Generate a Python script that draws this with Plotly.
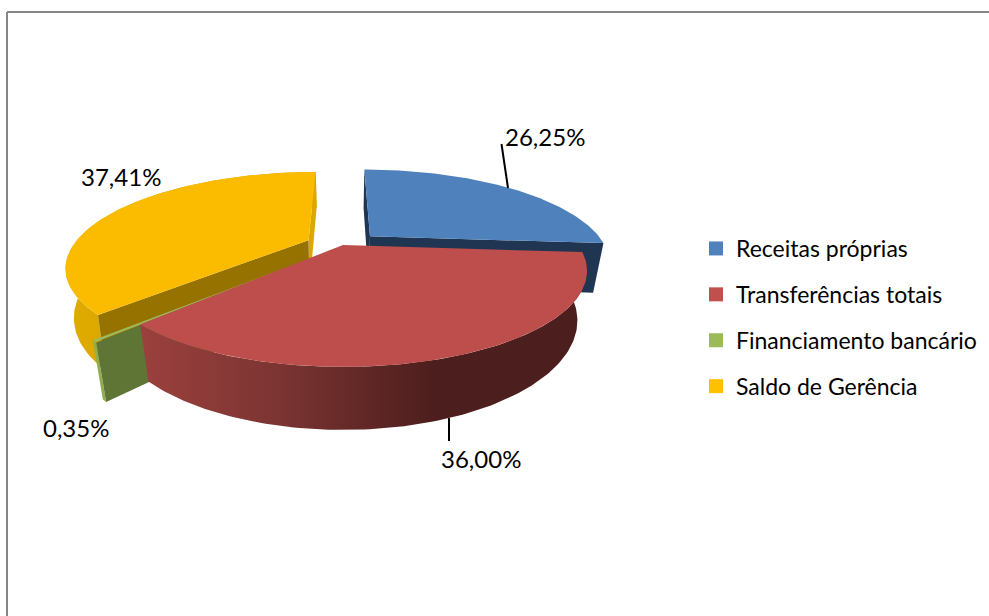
import numpy as np
import plotly.graph_objects as go

categories = ["Receitas próprias", "Transferências totais", "Financiamento bancário", "Saldo de Gerência"]
values = [26.25, 36.00, 0.35, 37.41]
top_colors = ["#4f81bd", "#bd4e4c", "#9bbb59", "#fbbc00"]
legend_colors = ["#4f81bd", "#c0504d", "#9bbb59", "#ffc000"]
cut_colors = ["#1f3552", "#4c1e1d", "#5f7536", "#967300"]
rear_colors = ["#1f3552", "#4c1e1d", "#5f7536", "#dba800"]
side_scales = [
    [[0, "#1f3552"], [1, "#1f3552"]],
    [[0, "#9b403d"], [0.3, "#7c3533"], [0.66, "#4c1e1d"], [1, "#4c1e1d"]],
    [[0, "#8fae50"], [1, "#8fae50"]],
    [[0, "#e0ab00"], [1, "#c89800"]],
]
# explosion of each slice: sideways (px) and into the screen (in radii)
pull_x = [27.7, 0.0, -27.0, -35.0]
pull_z = [0.10, 0.0, -0.127, 0.055]
depths = [50, 46, 46, 46]
shrinks = [0.04, 0.04, 0.04, 0.03]
label_xy = [(545, 136), (481, 458), (76, 427), (121, 176)]

CX, CY, RX, RY, PERSP = 343, 245, 235, 89, 0.27
FONT = "Lato"


def project(theta, i, bottom=False):
    theta = np.asarray(theta, dtype=float)
    z = pull_z[i] + np.cos(theta)
    s = 1 / (1 + PERSP * z)
    x = CX + (pull_x[i] + RX * np.sin(theta)) * s
    y = CY - RY * z * s
    if bottom:
        x = 345 + (x - 345) * (1 - shrinks[i])
        y = y + depths[i] * s
    return x, y


def apex(i, bottom=False):
    z = pull_z[i]
    s = 1 / (1 + PERSP * z)
    x = CX + pull_x[i] * s
    y = CY - RY * z * s
    if bottom:
        x = 345 + (x - 345) * (1 - shrinks[i])
        y = y + depths[i] * s
    return float(x), float(y)


def poly(xs, ys, color=None, scale=None):
    kw = dict(x=list(xs) + [xs[0]], y=list(ys) + [ys[0]], mode="lines", fill="toself",
              line=dict(width=0), hoverinfo="skip", showlegend=False)
    if scale is not None:
        kw["fillgradient"] = dict(type="horizontal", colorscale=scale)
    else:
        kw["fillcolor"] = color
    return go.Scatter(**kw)


total = sum(values)
edges = np.concatenate([[0], np.cumsum(values)]) / total * 2 * np.pi
fig = go.Figure()


def cut_face(i, theta, color):
    ax, ay = apex(i)
    bx, by = apex(i, True)
    tx, ty = project(theta, i)
    ux, uy = project(theta, i, True)
    fig.add_trace(poly([ax, float(tx), float(ux), bx], [ay, float(ty), float(uy), by], color))


def slice_draw(i, cut_theta, rear_theta):
    t = np.linspace(edges[i], edges[i + 1], 120)
    if i != 0:
        xt, yt = project(t, i)
        xb, yb = project(t[::-1], i, True)
        fig.add_trace(poly(np.r_[xt, xb].tolist(), np.r_[yt, yb].tolist(), scale=side_scales[i]))
    if rear_theta is not None:
        cut_face(i, rear_theta, rear_colors[i])
    if cut_theta is not None:
        cut_face(i, cut_theta, cut_colors[i])
    xt, yt = project(t, i)
    ax, ay = apex(i)
    fig.add_trace(poly([ax] + xt.tolist(), [ay] + yt.tolist(), top_colors[i]))


slice_draw(3, edges[3], edges[4])
slice_draw(2, edges[2], None)
slice_draw(0, edges[1], edges[0])
slice_draw(1, None, None)

for name, col in zip(categories, legend_colors):
    fig.add_trace(go.Scatter(x=[None], y=[None], mode="markers", name=name, legendgroup=name,
                             marker=dict(symbol="square", size=14, color=col), hoverinfo="skip"))

annotations = [
    dict(x=lx, y=ly, text=f"{v:.2f}%".replace(".", ","), showarrow=False, xanchor="center", yanchor="middle",
         font=dict(family=FONT, size=24, color="#000000"))
    for v, (lx, ly) in zip(values, label_xy)
]
frame = dict(color="#868686", width=2)
shapes = [
    dict(type="line", x0=7, x1=7, y0=12, y1=616, line=frame),
    dict(type="line", x0=7, x1=989, y0=12, y1=12, line=frame),
    dict(type="line", x0=501.5, x1=508, y0=144, y1=188, line=dict(color="#000000", width=2)),
    dict(type="line", x0=449, x1=449, y0=418, y1=441, line=dict(color="#000000", width=2)),
]
fig.update_layout(
    width=989, height=616, margin=dict(l=0, r=0, t=0, b=0),
    paper_bgcolor="#ffffff", plot_bgcolor="#ffffff",
    xaxis=dict(range=[0, 989], visible=False, fixedrange=True),
    yaxis=dict(range=[616, 0], visible=False, fixedrange=True),
    annotations=annotations, shapes=shapes,
    showlegend=True,
    legend=dict(x=696 / 989, y=1 - 227 / 616, xanchor="left", yanchor="top",
                font=dict(family=FONT, size=23, color="#000000"),
                tracegroupgap=13, itemclick=False, itemdoubleclick=False,
                bgcolor="rgba(0,0,0,0)", traceorder="grouped"),
)
fig.write_html("out.html", config={"displayModeBar": False},
               post_script="document.body.style.margin='0';document.documentElement.style.overflow='hidden';")
